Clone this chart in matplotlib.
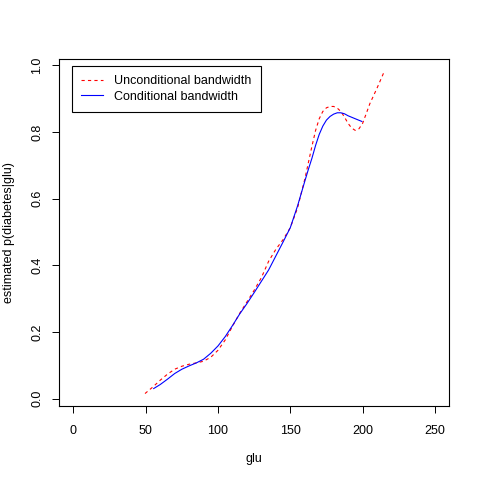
import matplotlib
matplotlib.use("Agg")
import matplotlib.pyplot as plt

# values
glu_uncond = [49.5, 55, 60, 65, 70, 75, 80, 85, 90, 95, 100, 105, 110, 115, 120,
              125, 130, 135, 140, 145, 150, 155, 160, 162.5, 165, 167.5, 170,
              172.5, 175, 177.5, 180, 182.5, 185, 187.5, 190, 192.5, 195, 197.5,
              200, 202.5, 205, 210, 215]
p_uncond = [0.015, 0.035, 0.055, 0.073, 0.088, 0.097, 0.103, 0.107, 0.112, 0.124,
            0.145, 0.176, 0.217, 0.256, 0.290, 0.325, 0.363, 0.412, 0.448, 0.477,
            0.513, 0.572, 0.658, 0.708, 0.758, 0.805, 0.840, 0.862, 0.873, 0.877,
            0.877, 0.872, 0.862, 0.845, 0.826, 0.812, 0.805, 0.810, 0.826, 0.855,
            0.885, 0.932, 0.982]

glu_cond = [55.5, 60, 65, 70, 75, 80, 85, 90, 95, 100, 105, 110, 115, 120, 125,
            130, 135, 140, 145, 150, 155, 160, 162.5, 165, 167.5, 170, 172.5, 175,
            177.5, 180, 182.5, 185, 187.5, 190, 195, 199.5]
p_cond = [0.030, 0.042, 0.058, 0.075, 0.088, 0.098, 0.107, 0.118, 0.136, 0.158,
          0.186, 0.219, 0.254, 0.285, 0.318, 0.352, 0.386, 0.428, 0.470, 0.513,
          0.578, 0.652, 0.688, 0.722, 0.760, 0.793, 0.818, 0.836, 0.847, 0.854,
          0.858, 0.858, 0.855, 0.849, 0.840, 0.832]

x_ticks = [0, 50, 100, 150, 200, 250]
y_ticks = [0.0, 0.2, 0.4, 0.6, 0.8, 1.0]

plt.rcParams["font.family"] = ["Liberation Sans", "DejaVu Sans"]
plt.rcParams["font.size"] = 9

fig = plt.figure(figsize=(4.8, 4.8), dpi=100)
ax = fig.add_axes([59 / 480, 1 - 405.7 / 480, 390.3 / 480, 346.7 / 480])

ax.plot(glu_uncond, p_uncond, color="red", lw=0.8, dashes=(2.9, 2.9),
        label="Unconditional bandwidth")
ax.plot(glu_cond, p_cond, color="blue", lw=0.8, label="Conditional bandwidth")

ax.set_xlim(-10, 260)
ax.set_ylim(-0.0215, 1.0195)
ax.set_xticks(x_ticks)
ax.set_xticklabels([str(t) for t in x_ticks])
ax.set_yticks(y_ticks)
ax.set_yticklabels([f"{t:.1f}" for t in y_ticks], rotation=90, va="center")
ax.tick_params(direction="out", length=5.2, width=0.7, colors="black", pad=8.5)
ax.tick_params(axis="y", pad=6)
for spine in ax.spines.values():
    spine.set_linewidth(0.8)
    spine.set_color("black")

ax.set_xlabel("glu", labelpad=12)
ax.set_ylabel("estimated p(diabetes|glu)", labelpad=12)

leg = ax.legend(loc="upper left", bbox_to_anchor=(0.0325, 0.981), borderaxespad=0,
                fancybox=False, edgecolor="black", framealpha=1, handlelength=1.75,
                handletextpad=0.9, borderpad=0.75, labelspacing=0.3)
leg.get_frame().set_linewidth(0.8)

fig.savefig("out.png", dpi=100)
